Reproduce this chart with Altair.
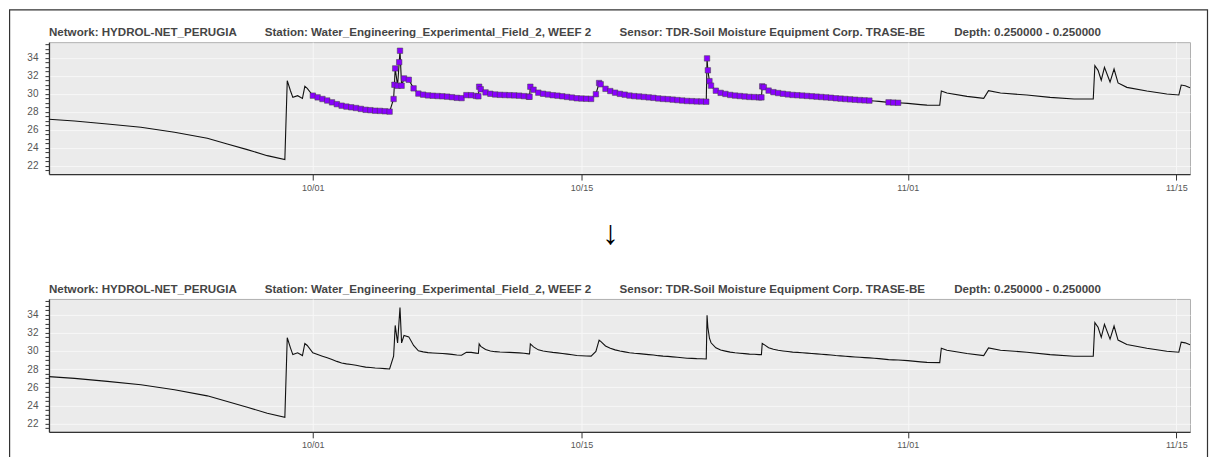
import altair as alt
import pandas as pd
import numpy as np

# ---------------- data ----------------
BASE = "2023-09-17 00:00"   # hours below are counted from this instant

# before the flagged stretch (not flagged)
pre_hours = [6, 38, 79, 121, 163, 204, 229, 254, 279, 301, 304, 308, 311, 317, 323, 326, 329]
pre_vals = [27.17, 26.98, 26.65, 26.28, 25.73, 25.06, 24.44, 23.81, 23.14, 22.70,
            31.45, 30.34, 29.60, 29.79, 29.49, 30.82, 30.60]

# flagged stretch, one reading every 6 hours from hour 336 (10/01 00:00)
flag_start_hour = 336
flag_step_hours = 6
flag_vals = [29.79, 29.60, 29.42, 29.25, 29.05, 28.85, 28.68, 28.58, 28.50, 28.42,
             28.32, 28.22, 28.18, 28.12, 28.10, 28.06, 28.02, 31.00, 33.50, 31.70,
             31.55, 30.60, 30.02, 29.90, 29.82, 29.78, 29.75, 29.72, 29.68, 29.62,
             29.55, 29.52, 29.85, 29.84, 29.76, 30.50, 30.15, 30.00, 29.92, 29.88,
             29.86, 29.84, 29.82, 29.79, 29.74, 29.68, 30.45, 30.12, 30.00, 29.92,
             29.84, 29.79, 29.72, 29.65, 29.58, 29.50, 29.47, 29.45, 29.43, 29.95,
             31.05, 30.55, 30.30, 30.12, 29.99, 29.90, 29.80, 29.74, 29.70, 29.65,
             29.60, 29.55, 29.48, 29.43, 29.40, 29.35, 29.30, 29.25, 29.20, 29.18,
             29.15, 29.14, 29.12, 30.90, 30.34, 30.10, 29.98, 29.87, 29.80, 29.75,
             29.70, 29.65, 29.63, 29.60, 30.72, 30.35, 30.18, 30.08, 30.00, 29.93,
             29.87, 29.84, 29.80, 29.76, 29.72, 29.68, 29.64, 29.60, 29.56, 29.50,
             29.46, 29.42, 29.38, 29.34, 29.30, 29.27, 29.24]

# extra flagged readings at the sharp rises and spikes
spike_hours = [437, 439, 442, 445, 447, 543, 544, 607, 608, 694, 829, 830, 832, 897, 898]
spike_vals = [29.42, 32.81, 30.89, 34.77, 30.89, 29.72, 30.78, 29.67, 30.78, 31.19,
              33.92, 32.60, 31.40, 29.60, 30.82]

# short unflagged gap, then a few flagged readings
gap_hours = [1038, 1044, 1050]
gap_vals = [29.20, 29.16, 29.10]
flag2_hours = [1056, 1062, 1068]
flag2_vals = [29.05, 29.02, 29.00]

# after the flagged stretch (not flagged)
post_hours = [1080, 1096, 1104, 1120, 1122, 1129, 1154, 1175, 1181, 1196, 1229, 1258,
              1288, 1312, 1314, 1318, 1322, 1326, 1333, 1338, 1343, 1354, 1379, 1404,
              1419, 1422, 1427, 1433]
post_vals = [28.93, 28.80, 28.74, 28.72, 30.30, 30.08, 29.71, 29.49, 30.34, 30.08, 29.86, 29.60,
             29.42, 29.42, 33.11, 32.60, 31.50, 32.92, 31.30, 32.74, 31.20, 30.71, 30.30, 29.97,
             29.86, 30.97, 30.89, 30.67]

x_tick_dates = ["2023-10-01", "2023-10-15", "2023-11-01", "2023-11-15"]
y_minor_step = 0.5
y_domain = [21.1, 35.72]

title_parts = [
    "Network: HYDROL-NET_PERUGIA",
    "Station: Water_Engineering_Experimental_Field_2, WEEF 2",
    "Sensor: TDR-Soil Moisture Equipment Corp. TRASE-BE",
    "Depth: 0.250000 - 0.250000",
]
title_offsets = [0, 216, 571, 906]

# ---------------- build tables ----------------
base = pd.Timestamp(BASE)
flag_hours = [flag_start_hour + i * flag_step_hours for i in range(len(flag_vals))]

rows = []
for hrs, vals, flagged in [
    (pre_hours, pre_vals, False),
    (flag_hours, flag_vals, True),
    (spike_hours, spike_vals, True),
    (gap_hours, gap_vals, False),
    (flag2_hours, flag2_vals, True),
    (post_hours, post_vals, False),
]:
    for h, v in zip(hrs, vals):
        t = (base + pd.Timedelta(hours=h)).strftime("%Y-%m-%dT%H:%M:%S")
        rows.append({"h": h, "time": t, "value": v, "flag": flagged})
df = pd.DataFrame(rows).sort_values("h").reset_index(drop=True)
df_flag = df[df["flag"]].reset_index(drop=True)

x_ticks = [alt.DateTime(year=pd.Timestamp(s).year, month=pd.Timestamp(s).month,
                        date=pd.Timestamp(s).day) for s in x_tick_dates]
y_ticks = [float(v) for v in np.arange(21.5, 35.51, y_minor_step)]

PW = 1142
FONT = "Liberation Sans"

x_enc = alt.X("time:T", title=None,
              scale=alt.Scale(nice=False),
              axis=alt.Axis(values=x_ticks, format="%m/%d", labelFontSize=9,
                            tickSize=6, labelPadding=3, grid=True,
                            labelColor="#555555"))
y_enc = alt.Y("value:Q", title=None,
              scale=alt.Scale(domain=y_domain, zero=False, nice=False),
              axis=alt.Axis(values=y_ticks, format=".0f",
                            labelExpr="datum.value % 2 === 0 ? datum.label : ''",
                            gridOpacity={"condition": {"test": "datum.value % 2 === 0", "value": 1}, "value": 0},
                            tickSize=4, labelPadding=7, labelFontSize=10,
                            labelOverlap=False, labelColor="#555555"))


def titles():
    layers = []
    for txt, off in zip(title_parts, title_offsets):
        layers.append(
            alt.Chart(alt.Data(values=[{}])).mark_text(
                text=txt, align="left", baseline="middle", fontSize=11.6,
                fontWeight="bold", color="#454545", font=FONT
            ).encode(x=alt.value(off), y=alt.value(-9))
        )
    return layers


def panel(height, with_flags, extras):
    line = alt.Chart(df).mark_line(color="#111111", strokeWidth=1.1).encode(x=x_enc, y=y_enc)
    layers = list(extras) + [line]
    if with_flags:
        pts = alt.Chart(df_flag).mark_square(
            size=30, fill="#8a00ff", stroke="#404040", strokeWidth=0.5, opacity=1
        ).encode(x=x_enc, y=y_enc)
        layers.append(pts)
    layers += titles()
    return alt.layer(*layers).properties(width=PW, height=height)


frame = alt.Chart(alt.Data(values=[{}])).mark_rect(
    fillOpacity=0, stroke="#333333", strokeWidth=1.2
).encode(x=alt.value(-39.4), x2=alt.value(1159.5), y=alt.value(-32.4), y2=alt.value(430))

arrow = alt.Chart(alt.Data(values=[{}])).mark_text(
    text="↓", fontSize=34, font=FONT, color="#000000", baseline="middle", align="center"
).encode(x=alt.value(562), y=alt.value(192))

top = panel(132, True, [frame, arrow])
bottom = panel(133, False, [])

chart = alt.vconcat(top, bottom, spacing=125, bounds="flush", padding=0).configure_view(
    fill="#ebebeb", stroke="#b0b0b0", strokeWidth=1
).configure_axis(
    domainColor="#333333", domainWidth=1.3, tickColor="#333333", tickWidth=1,
    labelFont=FONT, gridColor="#f7f7f7", gridWidth=1
)

chart.save("out.html", embed_options={"renderer": "svg", "actions": False})
